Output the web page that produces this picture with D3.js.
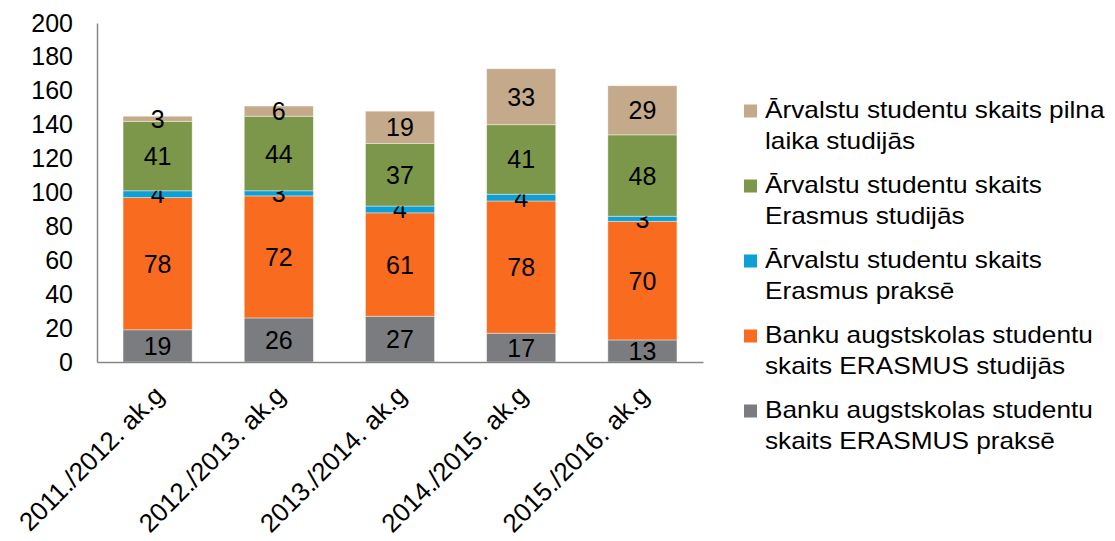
<!DOCTYPE html>
<html>
<head>
<meta charset="utf-8">
<script src="https://cdn.jsdelivr.net/npm/d3@7"></script>
<style>
  body { margin: 0; background: #fff; }
  text { font-family: "Liberation Sans", Arial, sans-serif; }
</style>
</head>
<body>
<div id="chart"></div>
<script>
// data
var categories = ["2011./2012. ak.g", "2012./2013. ak.g", "2013./2014. ak.g", "2014./2015. ak.g", "2015./2016. ak.g"];
var bankuPrakse = [19, 26, 27, 17, 13];      // Banku augstskolas ... prakse
var bankuStudijas = [78, 72, 61, 78, 70];    // Banku augstskolas ... studijas
var arvPrakse = [4, 3, 4, 4, 3];             // Arvalstu Erasmus prakse
var arvErasmusStud = [41, 44, 37, 41, 48];   // Arvalstu Erasmus studijas
var arvPilna = [3, 6, 19, 33, 29];           // Arvalstu pilna laika
var yTicks = [0, 20, 40, 60, 80, 100, 120, 140, 160, 180, 200];

var seriesNames = [
    ["Banku augstskolas studentu", "skaits ERASMUS praksē"],
    ["Banku augstskolas studentu", "skaits ERASMUS studijās"],
    ["Ārvalstu studentu skaits", "Erasmus praksē"],
    ["Ārvalstu studentu skaits", "Erasmus studijās"],
    ["Ārvalstu studentu skaits pilna", "laika studijās"]
];
var seriesValues = [bankuPrakse, bankuStudijas, arvPrakse, arvErasmusStud, arvPilna];
var colors = ["#7b7c80", "#f96b1e", "#0ca0d6", "#7c974a", "#c4aa8a"];

var W = 1115, H = 541;
var plotLeft = 97, plotRight = 703, plotTop = 23, plotBottom = 362;

var svg = d3.select("#chart").append("svg")
    .attr("width", W)
    .attr("height", H);

// build rows for stack
var keys = ["s0", "s1", "s2", "s3", "s4"];
var rows = categories.map(function (c, i) {
    var r = { cat: c };
    keys.forEach(function (k, j) { r[k] = seriesValues[j][i]; });
    return r;
});
var stacked = d3.stack().keys(keys)(rows);

var x = d3.scaleBand().domain(categories).range([plotLeft, plotRight]).paddingInner(0.43).paddingOuter(0.215);
var y = d3.scaleLinear().domain([0, 200]).range([plotBottom, plotTop]);

// y axis labels
var yAxis = svg.append("g")
    .attr("transform", "translate(" + plotLeft + ",0)")
    .call(d3.axisLeft(y).tickValues(yTicks).tickSize(0).tickPadding(24));
yAxis.select(".domain").attr("stroke", "#868686").attr("stroke-width", 1.5);
yAxis.selectAll("text").attr("font-size", 25).attr("fill", "#000")
    .attr("font-family", "Liberation Sans, Arial, sans-serif");

// bars
var layers = svg.selectAll(".layer")
    .data(stacked)
    .enter().append("g")
    .attr("fill", function (d, i) { return colors[i]; });

layers.selectAll("rect")
    .data(function (d) { return d; })
    .enter().append("rect")
    .attr("x", function (d) { return x(d.data.cat); })
    .attr("y", function (d) { return y(d[1]); })
    .attr("width", x.bandwidth())
    .attr("height", function (d) { return y(d[0]) - y(d[1]); })
    .attr("stroke", "#ffffff")
    .attr("stroke-opacity", 0.5)
    .attr("stroke-width", 0.8);

// value labels
layers.selectAll("text")
    .data(function (d) { return d; })
    .enter().append("text")
    .attr("x", function (d) { return x(d.data.cat) + x.bandwidth() / 2; })
    .attr("y", function (d) { return (y(d[0]) + y(d[1])) / 2; })
    .attr("dy", "0.36em")
    .attr("text-anchor", "middle")
    .attr("font-size", 25)
    .attr("fill", "#000")
    .text(function (d) { return d[1] - d[0]; });

// x axis
var xAxis = svg.append("g")
    .attr("transform", "translate(0," + plotBottom + ")")
    .call(d3.axisBottom(x).tickSize(0).tickPadding(0));
xAxis.select(".domain").attr("stroke", "#868686").attr("stroke-width", 1.5);
xAxis.selectAll("text")
    .attr("font-size", 26)
    .attr("fill", "#000")
    .attr("font-family", "Liberation Sans, Arial, sans-serif")
    .attr("text-anchor", "end")
    .attr("dy", 0)
    .attr("transform", "translate(8,35) rotate(-45)");

// legend
var legend = svg.append("g");
var legendOrder = [4, 3, 2, 1, 0];
legendOrder.forEach(function (si, k) {
    var cy = 111 + k * 75;
    legend.append("rect")
        .attr("x", 744).attr("y", cy - 6.5)
        .attr("width", 13).attr("height", 13)
        .attr("fill", colors[si]);
    var t = legend.append("text")
        .attr("transform", "translate(765," + (cy + 7) + ") scale(1.14,1)")
        .attr("font-size", 23)
        .attr("fill", "#000");
    seriesNames[si].forEach(function (line, li) {
        t.append("tspan").attr("x", 0).attr("dy", li === 0 ? 0 : 31).text(line);
    });
});
</script>
</body>
</html>
